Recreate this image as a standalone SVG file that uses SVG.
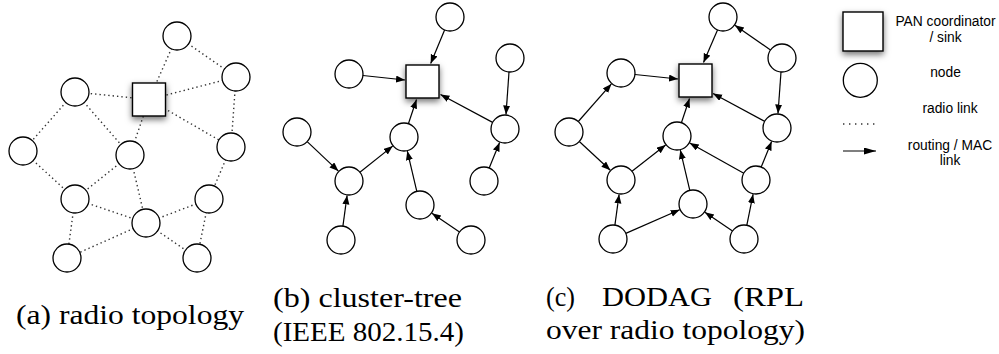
<svg xmlns="http://www.w3.org/2000/svg" width="999" height="354" viewBox="0 0 999 354">
<style>
.node{fill:#fff;stroke:#000;stroke-width:1.3}
.sink{fill:#fff;stroke:#000;stroke-width:1.4;filter:url(#shadow)}
.radio{stroke:#333;stroke-width:1.4;stroke-dasharray:1.4 3;fill:none}
.route{stroke:#000;stroke-width:1.2;fill:none;marker-end:url(#arr)}
.cap{font-size:28px;fill:#000}
.leg{font-family:"Liberation Sans",Arial,sans-serif;font-size:13.8px;fill:#000;text-anchor:middle}
</style>
<defs>
<filter id="shadow" x="-40%" y="-40%" width="180%" height="190%">
<feDropShadow dx="0" dy="3" stdDeviation="3" flood-color="#000" flood-opacity="0.55"/>
</filter>
<marker id="arr" markerUnits="userSpaceOnUse" markerWidth="10" markerHeight="8" refX="9" refY="3.5" orient="auto">
<path d="M0,0 L9,3.5 L0,7 z" fill="#000"/>
</marker>
<marker id="arrL" markerUnits="userSpaceOnUse" markerWidth="13" markerHeight="8" refX="12" refY="3.5" orient="auto">
<path d="M0,0 L12,3.5 L0,7 z" fill="#000"/>
</marker>
</defs>
<rect width="999" height="354" fill="#fff"/>

<g id="connectors">
<!-- panel a : radio links -->
<line class="radio" x1="177" y1="36" x2="149" y2="99.5"/>
<line class="radio" x1="177" y1="36" x2="236" y2="77"/>
<line class="radio" x1="236" y1="77" x2="149" y2="99.5"/>
<line class="radio" x1="236" y1="77" x2="231" y2="147"/>
<line class="radio" x1="149" y1="99.5" x2="75" y2="92"/>
<line class="radio" x1="149" y1="99.5" x2="130" y2="155"/>
<line class="radio" x1="149" y1="99.5" x2="231" y2="147"/>
<line class="radio" x1="75" y1="92" x2="23" y2="151"/>
<line class="radio" x1="75" y1="92" x2="130" y2="155"/>
<line class="radio" x1="23" y1="151" x2="75" y2="199"/>
<line class="radio" x1="130" y1="155" x2="75" y2="199"/>
<line class="radio" x1="130" y1="155" x2="146" y2="223"/>
<line class="radio" x1="231" y1="147" x2="209" y2="199"/>
<line class="radio" x1="75" y1="199" x2="146" y2="223"/>
<line class="radio" x1="75" y1="199" x2="67" y2="258"/>
<line class="radio" x1="146" y1="223" x2="209" y2="199"/>
<line class="radio" x1="146" y1="223" x2="67" y2="258"/>
<line class="radio" x1="146" y1="223" x2="197" y2="258"/>
<line class="radio" x1="209" y1="199" x2="197" y2="258"/>
<!-- panel b : cluster-tree -->
<line class="route" x1="444.6" y1="29.9" x2="430.7" y2="63.5"/>
<line class="route" x1="362.9" y1="75.5" x2="405" y2="80"/>
<line class="route" x1="492.6" y1="122.4" x2="440.5" y2="94.5"/>
<line class="route" x1="509" y1="72" x2="506" y2="114.5"/>
<line class="route" x1="489.2" y1="168" x2="499.6" y2="142.4"/>
<line class="route" x1="307.2" y1="141.6" x2="338.4" y2="171.1"/>
<line class="route" x1="359.9" y1="172.3" x2="392.7" y2="146.1"/>
<line class="route" x1="342.9" y1="226.1" x2="347.1" y2="195.4"/>
<line class="route" x1="408.4" y1="123.7" x2="416.5" y2="99.5"/>
<line class="route" x1="416.8" y1="191.4" x2="407.3" y2="151.1"/>
<line class="route" x1="459.5" y1="232.1" x2="431.9" y2="213.2"/>
<!-- panel c : DODAG -->
<line class="route" x1="717.5" y1="29.9" x2="703.5" y2="62.5"/>
<line class="route" x1="770.5" y1="50" x2="734.9" y2="25.3"/>
<line class="route" x1="781" y1="72" x2="778" y2="113.5"/>
<line class="route" x1="764.7" y1="121.4" x2="713" y2="93.5"/>
<line class="route" x1="634.9" y1="74.5" x2="678" y2="79"/>
<line class="route" x1="578.3" y1="121.5" x2="611.4" y2="83.9"/>
<line class="route" x1="579.3" y1="141.5" x2="610.3" y2="170.2"/>
<line class="route" x1="632" y1="171.3" x2="665.6" y2="145"/>
<line class="route" x1="681.4" y1="122.7" x2="689.5" y2="98.5"/>
<line class="route" x1="743.8" y1="173.2" x2="689.7" y2="143.1"/>
<line class="route" x1="761.2" y1="167" x2="771.6" y2="141.4"/>
<line class="route" x1="689.8" y1="190.4" x2="680.3" y2="150.1"/>
<line class="route" x1="614.9" y1="225.1" x2="619.1" y2="194.4"/>
<line class="route" x1="625.8" y1="233.4" x2="679.7" y2="209.8"/>
<line class="route" x1="732.5" y1="231.1" x2="704.9" y2="212.2"/>
<line class="route" x1="746.8" y1="225.3" x2="753.1" y2="194.2"/>
</g>

<!-- panel a nodes -->
<g id="a-sink"><rect class="sink" x="132.5" y="83" width="33" height="33"/></g>
<g id="a-n1"><circle class="node" cx="177" cy="36" r="14"/></g>
<g id="a-n2"><circle class="node" cx="236" cy="77" r="14"/></g>
<g id="a-n3"><circle class="node" cx="75" cy="92" r="14"/></g>
<g id="a-n4"><circle class="node" cx="23" cy="151" r="14"/></g>
<g id="a-n5"><circle class="node" cx="130" cy="155" r="14"/></g>
<g id="a-n6"><circle class="node" cx="231" cy="147" r="14"/></g>
<g id="a-n7"><circle class="node" cx="75" cy="199" r="14"/></g>
<g id="a-n8"><circle class="node" cx="209" cy="199" r="14"/></g>
<g id="a-n9"><circle class="node" cx="146" cy="223" r="14"/></g>
<g id="a-n10"><circle class="node" cx="67" cy="258" r="14"/></g>
<g id="a-n11"><circle class="node" cx="197" cy="258" r="14"/></g>

<!-- panel b nodes -->
<g id="b-sink"><rect class="sink" x="406" y="65" width="33" height="33"/></g>
<g id="b-n1"><circle class="node" cx="450" cy="17" r="14"/></g>
<g id="b-n2"><circle class="node" cx="510" cy="58" r="14"/></g>
<g id="b-n3"><circle class="node" cx="349" cy="74" r="14"/></g>
<g id="b-n4"><circle class="node" cx="297" cy="132" r="14"/></g>
<g id="b-n5"><circle class="node" cx="404" cy="137" r="14"/></g>
<g id="b-n6"><circle class="node" cx="505" cy="129" r="14"/></g>
<g id="b-n7"><circle class="node" cx="349" cy="181" r="14"/></g>
<g id="b-n8"><circle class="node" cx="484" cy="181" r="14"/></g>
<g id="b-n9"><circle class="node" cx="420" cy="205" r="14"/></g>
<g id="b-n10"><circle class="node" cx="341" cy="240" r="14"/></g>
<g id="b-n11"><circle class="node" cx="471" cy="240" r="14"/></g>

<!-- panel c nodes -->
<g id="c-sink"><rect class="sink" x="679" y="64" width="33" height="33"/></g>
<g id="c-n1"><circle class="node" cx="723" cy="17" r="14"/></g>
<g id="c-n2"><circle class="node" cx="782" cy="58" r="14"/></g>
<g id="c-n3"><circle class="node" cx="621" cy="73" r="14"/></g>
<g id="c-n4"><circle class="node" cx="569" cy="132" r="14"/></g>
<g id="c-n5"><circle class="node" cx="677" cy="136" r="14"/></g>
<g id="c-n6"><circle class="node" cx="777" cy="128" r="14"/></g>
<g id="c-n7"><circle class="node" cx="621" cy="180" r="14"/></g>
<g id="c-n8"><circle class="node" cx="756" cy="180" r="14"/></g>
<g id="c-n9"><circle class="node" cx="693" cy="204" r="14"/></g>
<g id="c-n10"><circle class="node" cx="613" cy="239" r="14"/></g>
<g id="c-n11"><circle class="node" cx="744" cy="239" r="14"/></g>

<!-- legend -->
<g id="legend">
<rect class="sink" x="843" y="12" width="40" height="39"/>
<text class="leg" x="945.5" y="26">PAN coordinator</text>
<text class="leg" x="945.5" y="42">/ sink</text>
<circle class="node" cx="860.3" cy="80.3" r="17"/>
<text class="leg" x="945.5" y="77">node</text>
<line x1="843" y1="124" x2="876" y2="124" stroke="#333" stroke-width="1.4" stroke-dasharray="1.4 4.6"/>
<text class="leg" x="950" y="113">radio link</text>
<line x1="843" y1="151" x2="876" y2="151" stroke="#000" stroke-width="1.2" marker-end="url(#arrL)"/>
<text class="leg" x="950" y="150">routing / MAC</text>
<text class="leg" x="950" y="165">link</text>
</g>

<!-- captions -->
<g id="captions" font-family="'Liberation Serif', 'Times New Roman', serif">
<text class="cap" x="16" y="324" textLength="228" lengthAdjust="spacingAndGlyphs">(a) radio topology</text>
<text class="cap" x="273" y="307" textLength="189" lengthAdjust="spacingAndGlyphs">(b) cluster-tree</text>
<text class="cap" x="273" y="341" textLength="191" lengthAdjust="spacingAndGlyphs">(IEEE 802.15.4)</text>
<text class="cap" y="306"><tspan x="546" textLength="29" lengthAdjust="spacingAndGlyphs">(c)</tspan> <tspan x="602" textLength="110" lengthAdjust="spacingAndGlyphs">DODAG</tspan> <tspan x="733" textLength="71" lengthAdjust="spacingAndGlyphs">(RPL</tspan></text>
<text class="cap" x="546" y="339" textLength="259" lengthAdjust="spacingAndGlyphs">over radio topology)</text>
</g>
</svg>
